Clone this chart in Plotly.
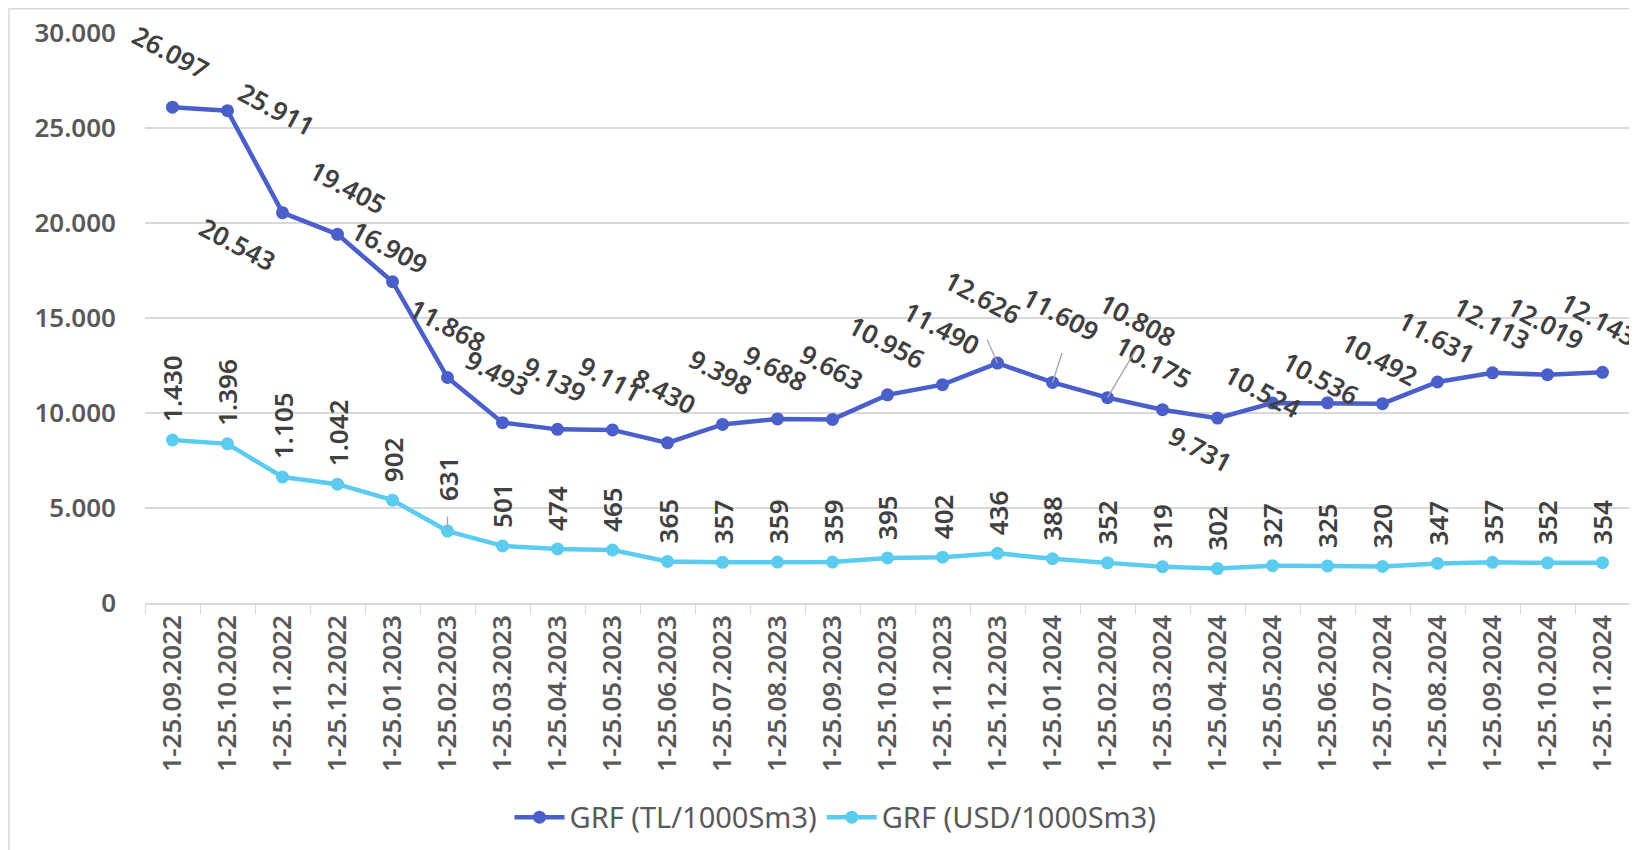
import plotly.graph_objects as go

categories = [
    "1-25.09.2022", "1-25.10.2022", "1-25.11.2022", "1-25.12.2022",
    "1-25.01.2023", "1-25.02.2023", "1-25.03.2023", "1-25.04.2023",
    "1-25.05.2023", "1-25.06.2023", "1-25.07.2023", "1-25.08.2023",
    "1-25.09.2023", "1-25.10.2023", "1-25.11.2023", "1-25.12.2023",
    "1-25.01.2024", "1-25.02.2024", "1-25.03.2024", "1-25.04.2024",
    "1-25.05.2024", "1-25.06.2024", "1-25.07.2024", "1-25.08.2024",
    "1-25.09.2024", "1-25.10.2024", "1-25.11.2024",
]
grf_tl = [26097, 25911, 20543, 19405, 16909, 11868, 9493, 9139, 9111, 8430,
          9398, 9688, 9663, 10956, 11490, 12626, 11609, 10808, 10175, 9731,
          10524, 10536, 10492, 11631, 12113, 12019, 12143]
grf_usd = [1430, 1396, 1105, 1042, 902, 631, 501, 474, 465, 365, 357, 359,
           359, 395, 402, 436, 388, 352, 319, 302, 327, 325, 320, 347, 357,
           352, 354]
y_ticks = [0, 5000, 10000, 15000, 20000, 25000, 30000]

# label placement (pixel offsets from each point)
tl_label_shift = [(-2, 55), (49, 2), (-45, -31), (10, 47), (-3, 35), (0, 53),
                  (-5, 50), (-3, 50), (-2, 51), (-3, 52), (-2, 52), (-2, 51),
                  (-1, 52), (-1, 53), (-1, 57), (-15, 66), (8, 68), (30, 78),
                  (-9, 48), (-17, -31), (-10, 12), (-7, 25), (-3, 45), (-1, 45),
                  (-1, 50), (-2, 52), (-4, 53)]
usd_extra_gap = {5: 12}
leader_lines = [("tl", 15, -11, -25), ("tl", 16, 10, -31), ("tl", 17, 29, -49),
                ("usd", 5, 0, -16)]

TL_COLOR = "#4B5FCB"
USD_COLOR = "#5BCBF0"
FAMILY = "Noto Sans, Open Sans, sans-serif"
LABEL_FONT = dict(family=FAMILY, size=26, color="#404040", weight=600)
TICK_FONT = dict(family=FAMILY, size=26, color="#595959", weight=600)


def fmt(v):
    return f"{v:,}".replace(",", ".")


fig = go.Figure()
fig.add_trace(go.Scatter(
    x=categories, y=grf_tl, name="GRF (TL/1000Sm3)", mode="lines+markers",
    line=dict(color=TL_COLOR, width=4.5), marker=dict(color=TL_COLOR, size=13),
))
fig.add_trace(go.Scatter(
    x=categories, y=grf_usd, name="GRF (USD/1000Sm3)", mode="lines+markers",
    yaxis="y2", line=dict(color=USD_COLOR, width=4.5),
    marker=dict(color=USD_COLOR, size=13),
))

annotations = []
for i, (c, v) in enumerate(zip(categories, grf_tl)):
    dx, dy = tl_label_shift[i]
    annotations.append(dict(
        x=c, y=v, xref="x", yref="y", text=fmt(v), showarrow=False,
        textangle=28, font=LABEL_FONT, xanchor="center", yanchor="middle",
        xshift=dx, yshift=dy,
    ))
for i, (c, v) in enumerate(zip(categories, grf_usd)):
    annotations.append(dict(
        x=c, y=v, xref="x", yref="y2", text=fmt(v), showarrow=False,
        textangle=-90, font=LABEL_FONT, xanchor="center", yanchor="bottom",
        yshift=16 + usd_extra_gap.get(i, 0),
    ))
for series, i, ax, ay in leader_lines:
    vals = grf_tl if series == "tl" else grf_usd
    annotations.append(dict(
        x=categories[i], y=vals[i], xref="x", yref="y" if series == "tl" else "y2",
        text="", showarrow=True, arrowhead=0, arrowwidth=1.3,
        arrowcolor="#A6A6A6", ax=ax, ay=ay, standoff=0,
    ))

# the page adds an 8px body margin, so the figure is 8px smaller
fig.update_layout(
    width=1629, height=842,
    margin=dict(l=137, r=7, t=25, b=243),
    paper_bgcolor="white", plot_bgcolor="white",
    separators=",.",
    showlegend=True,
    legend=dict(orientation="h", x=0.465, y=-0.376, xanchor="center",
                yanchor="middle", font=dict(family=FAMILY, size=29,
                                            color="#595959"),
                itemwidth=50, traceorder="normal"),
    xaxis=dict(type="category", showgrid=False, showline=True,
               linecolor="#D9D9D9", linewidth=1.5, ticks="outside",
               tickson="boundaries", ticklen=9, tickcolor="#D9D9D9",
               tickangle=-90, tickfont=TICK_FONT, range=[-0.5, 26.5]),
    yaxis=dict(range=[0, 30000], tickvals=y_ticks, tickformat=",d",
               showgrid=True, gridcolor="#D9D9D9", gridwidth=1.5,
               zeroline=False, showline=False, tickfont=TICK_FONT,
               ticklabelstandoff=28),
    yaxis2=dict(range=[0, 5000], overlaying="y", side="right", visible=False),
    annotations=annotations,
    shapes=[dict(type="rect", xref="paper", yref="paper",
                 x0=(9 - 145) / 1485, x1=(1660 - 145) / 1485,
                 y0=(599 - 848) / 566, y1=(599 - 9) / 566,
                 line=dict(color="#D9D9D9", width=1.5), layer="below")],
)

fig.write_html("out.html")
